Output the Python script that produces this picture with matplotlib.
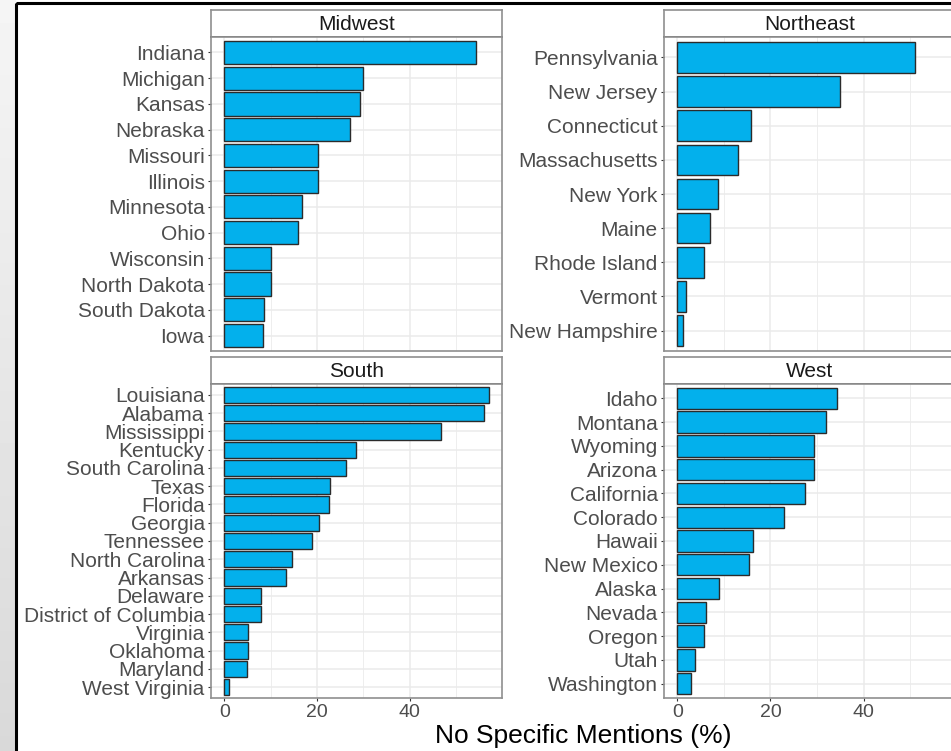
import numpy as np
import matplotlib.pyplot as plt
from matplotlib.patches import Rectangle

plt.rcParams['font.family'] = ['Liberation Sans', 'DejaVu Sans']

# Data, listed top to bottom as in each panel
midwest_states = ['Indiana', 'Michigan', 'Kansas', 'Nebraska', 'Missouri', 'Illinois',
                  'Minnesota', 'Ohio', 'Wisconsin', 'North Dakota', 'South Dakota', 'Iowa']
midwest_vals = [54.2, 29.9, 29.3, 27.1, 20.2, 20.1, 16.7, 15.8, 10.0, 10.0, 8.5, 8.3]

northeast_states = ['Pennsylvania', 'New Jersey', 'Connecticut', 'Massachusetts', 'New York',
                    'Maine', 'Rhode Island', 'Vermont', 'New Hampshire']
northeast_vals = [51.1, 35.0, 15.8, 13.1, 8.8, 7.0, 5.7, 1.9, 1.3]

south_states = ['Louisiana', 'Alabama', 'Mississippi', 'Kentucky', 'South Carolina', 'Texas',
                'Florida', 'Georgia', 'Tennessee', 'North Carolina', 'Arkansas', 'Delaware',
                'District of Columbia', 'Virginia', 'Oklahoma', 'Maryland', 'West Virginia']
south_vals = [57.0, 56.0, 46.8, 28.4, 26.2, 22.7, 22.6, 20.5, 19.0, 14.5, 13.3, 8.0,
              7.9, 5.1, 5.1, 4.8, 1.1]

west_states = ['Idaho', 'Montana', 'Wyoming', 'Arizona', 'California', 'Colorado', 'Hawaii',
               'New Mexico', 'Alaska', 'Nevada', 'Oregon', 'Utah', 'Washington']
west_vals = [34.4, 32.0, 29.4, 29.3, 27.5, 23.0, 16.3, 15.3, 8.9, 6.2, 5.8, 3.7, 3.0]

W, H = 951, 751
BAR = '#03b0ec'
GRID = '#ebebeb'
BORDER = '#8f8f8f'
TXT = '#4d4d4d'
FS = 15


def box(x0, y0, x1, y1):
    # pixel box (top-left origin) -> figure fraction
    return [x0 / W, 1 - y1 / H, (x1 - x0) / W, (y1 - y0) / H]


fig = plt.figure(figsize=(W / 100, H / 100), dpi=100)

# slide background: grey gradient on the left, black frame
bg = fig.add_axes([0, 0, 1, 1])
bg.set_xlim(0, W)
bg.set_ylim(H, 0)
bg.axis('off')
grad = np.linspace(0.96, 0.85, 100).reshape(-1, 1)
bg.imshow(grad, cmap='gray', vmin=0, vmax=1, extent=[0, 16, H, 0], aspect='auto')
bg.add_patch(Rectangle((16, 3), W, H, fill=False, edgecolor='black', lw=2.2))

xmax = max(midwest_vals + northeast_vals + south_vals + west_vals)
xlim = (-0.05 * xmax, 1.05 * xmax)

panels = [
    ('Midwest', midwest_states, midwest_vals, (211, 10, 502, 351), False),
    ('Northeast', northeast_states, northeast_vals, (664, 10, 956, 351), False),
    ('South', south_states, south_vals, (211, 357, 502, 698), True),
    ('West', west_states, west_vals, (664, 357, 956, 698), True),
]

for title, states, vals, (x0, y0, x1, y1), bottom in panels:
    strip_h = 27
    # strip
    sax = fig.add_axes(box(x0, y0, x1, y0 + strip_h))
    sax.set_xticks([])
    sax.set_yticks([])
    for s in sax.spines.values():
        s.set_color(BORDER)
        s.set_linewidth(1.2)
    sax.spines['bottom'].set_color('#555555')
    sax.text(0.5, 0.48, title, ha='center', va='center', fontsize=FS, color='#1a1a1a',
             transform=sax.transAxes)

    ax = fig.add_axes(box(x0, y0 + strip_h, x1, y1))
    n = len(states)
    ypos = np.arange(n)[::-1]
    ax.barh(ypos, vals, height=0.9, color=BAR, edgecolor='#2b2b2b', linewidth=1.0, zorder=3)
    ax.set_ylim(-0.6, n - 0.4)
    ax.set_xlim(*xlim)
    ax.set_yticks(ypos)
    ax.set_yticklabels(states)
    ax.set_xticks([0, 20, 40])
    ax.set_xticks([10, 30, 50], minor=True)
    ax.grid(True, which='major', color=GRID, lw=1.1, zorder=0)
    ax.grid(True, which='minor', axis='x', color=GRID, lw=0.6, zorder=0)
    ax.set_axisbelow(True)
    ax.tick_params(axis='y', length=2.5, width=0.8, color='#333333', pad=2,
                   labelsize=FS, labelcolor=TXT)
    ax.tick_params(axis='x', which='minor', length=0)
    if bottom:
        ax.tick_params(axis='x', which='major', length=2.5, width=0.8, color='#333333',
                       pad=2, labelsize=14, labelcolor=TXT)
    else:
        ax.tick_params(axis='x', which='major', length=0, labelbottom=False)
    for s in ax.spines.values():
        s.set_color(BORDER)
        s.set_linewidth(1.2)

fig.text(583.5 / W, 1 - 736 / H, 'No Specific Mentions (%)', ha='center', va='center',
         fontsize=19, color='black')

fig.savefig('out.png', dpi=100)
